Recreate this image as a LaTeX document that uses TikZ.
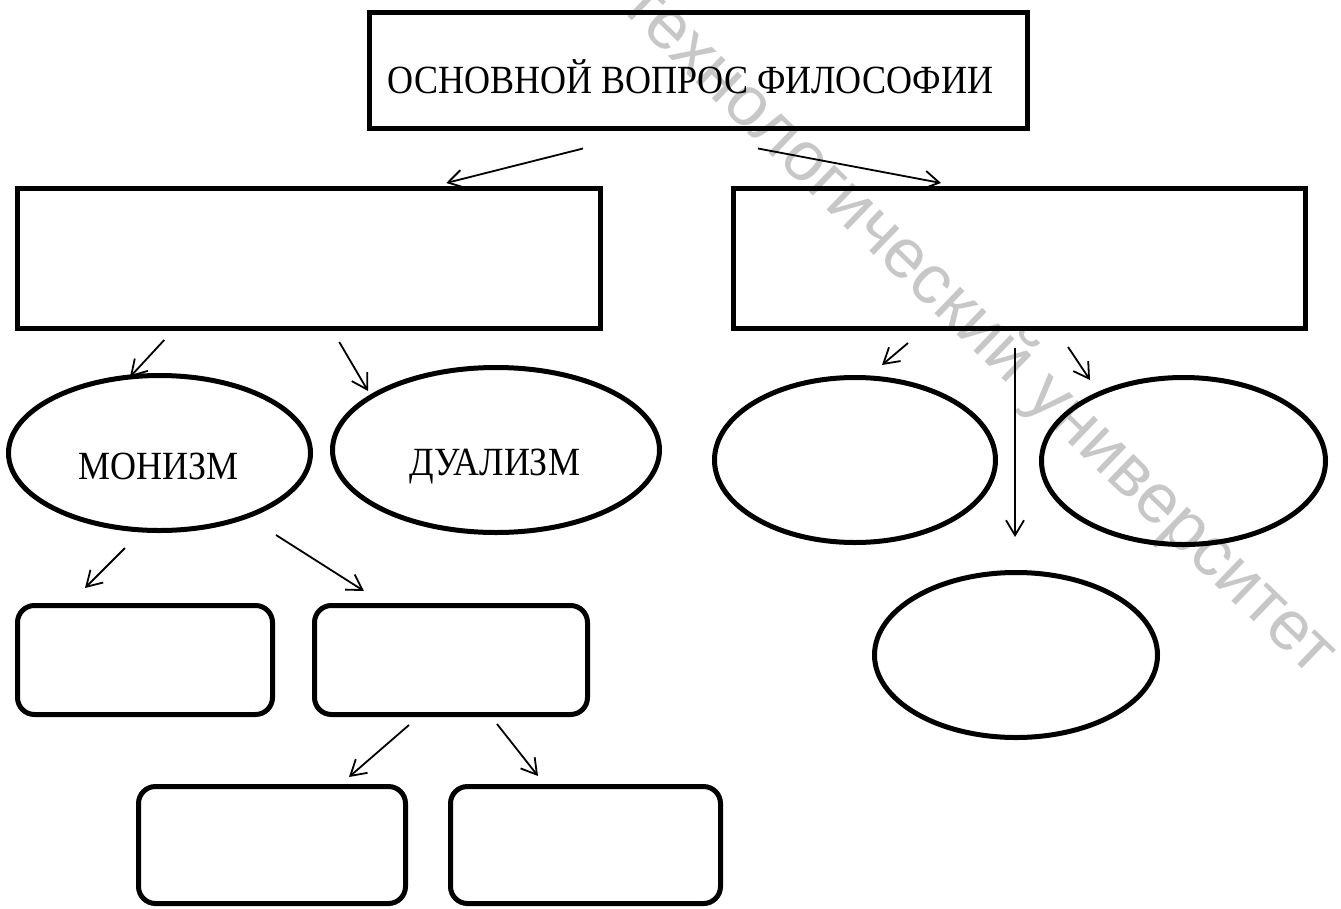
\documentclass[tikz,border=0pt]{standalone}
\usepackage{graphicx}
\usepackage{fontspec}
\setmainfont{Liberation Serif}
\newfontfamily\wmfont{Liberation Sans}
\usetikzlibrary{shapes.geometric,arrows.meta,calc}
\newcommand{\narrowtxt}[1]{\scalebox{0.9}[1]{#1}}
\begin{document}
\begin{tikzpicture}[x=1pt,y=-1pt,
  box/.style={draw, line width=5pt, inner sep=0pt},
  rbox/.style={draw, line width=5pt, rounded corners=17pt, inner sep=0pt},
  oval/.style={draw, ellipse, line width=5pt, inner sep=0pt},
  arr/.style={line width=1.8pt, -{Straight Barb[length=15pt,width=18pt]}},
  lbl/.style={font=\fontsize{40}{46}\selectfont, inner sep=0pt, anchor=base},
  wm/.style={font=\wmfont\fontsize{70}{80}\selectfont, text=black!22, inner sep=0pt}]
\useasboundingbox (0,0) rectangle (1341,908);
\clip (0,0) rectangle (1341,908);
% watermark
\node[wm, rotate=-44, anchor=base] (wmk) at (965,343) {технологический университет};
% boxes
\node[box, minimum width=658pt, minimum height=116pt] (T) at (698.5,70) {};
\node[lbl] (Tt) at ($(T.center)+(-8,23)$) {\narrowtxt{ОСНОВНОЙ ВОПРОС ФИЛОСОФИИ}};
\node[box, minimum width=582.5pt, minimum height=140pt] (L) at (308.75,258.5) {};
\node[box, minimum width=572pt, minimum height=140pt] (R) at (1019.5,258.5) {};
% ellipses
\node[oval, minimum width=302pt, minimum height=155pt] (mon) at (159.5,453) {};
\node[lbl] (mont) at ($(mon.center)+(-0.5,26)$) {\narrowtxt{МОНИЗМ}};
\node[oval, minimum width=327pt, minimum height=165pt] (dua) at (496,450) {};
\node[lbl] (duat) at ($(dua.center)+(-1,25)$) {\narrowtxt{ДУАЛИЗМ}};
\node[oval, minimum width=281pt, minimum height=165pt] (e3) at (855,460) {};
\node[oval, minimum width=284pt, minimum height=167pt] (e4) at (1183.5,461) {};
\node[oval, minimum width=283pt, minimum height=165pt] (e5) at (1016,655) {};
% rounded boxes
\node[rbox, minimum width=255pt, minimum height=109pt] (b1) at (145,660) {};
\node[rbox, minimum width=273pt, minimum height=109pt] (b2) at (451,660) {};
\node[rbox, minimum width=267pt, minimum height=117pt] (b3) at (272,845) {};
\node[rbox, minimum width=270pt, minimum height=117pt] (b4) at (585.5,845) {};
% arrows
\draw[arr] ($(T.south)+(-115.5,18)$) -- ($(L.north)+(137.5,-3)$);
\draw[arr] ($(T.south)+(59.5,18)$) -- ($(R.north)+(-78.5,-3)$);
\draw[arr] ($(L.south)+(-144.5,9)$) -- ($(mon.center)+(-29.5,-76)$);
\draw[arr] ($(L.south)+(30.5,11)$) -- ($(dua.center)+(-128,-59)$);
\draw[arr] ($(R.south)+(-111.5,12)$) -- ($(e3.north)+(27,-10)$);
\draw[arr] ($(R.south)+(48.5,16)$) -- ($(e4.center)+(-93.5,-81)$);
\draw[arr] ($(R.south)+(-4.5,17)$) -- ($(e5.north)+(-1,-33)$);
\draw[arr] ($(mon.south)+(-34.5,15)$) -- ($(b1.north)+(-60,-15)$);
\draw[arr] ($(mon.south)+(116.5,2)$) -- ($(b2.north)+(-87,-12)$);
\draw[arr] ($(b2.south)+(-42,8)$) -- ($(b3.north)+(77,-7)$);
\draw[arr] ($(b2.south)+(46,7)$) -- ($(b4.north)+(-47.5,-8)$);
\end{tikzpicture}
\end{document}
